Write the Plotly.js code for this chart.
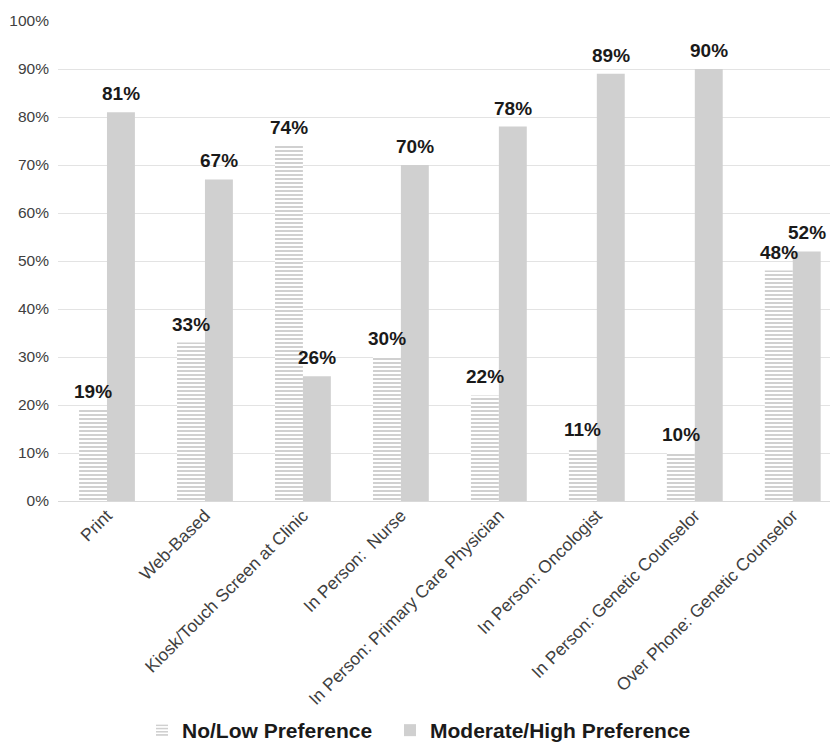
<!DOCTYPE html>
<html>
<head>
<meta charset="utf-8">
<script src="https://cdn.plot.ly/plotly-3.0.1.min.js"></script>
<style>
  html, body { margin: 0; padding: 0; background: #ffffff; }
  #chart { width: 830px; height: 742px; }
</style>
</head>
<body>
<div id="chart"></div>
<script>
// Delivery channels for genetic information
const categories = [
  'Print',
  'Web-Based',
  'Kiosk/Touch Screen at Clinic',
  'In Person:\u00a0 Nurse',
  'In Person: Primary Care Physician',
  'In Person: Oncologist',
  'In Person: Genetic Counselor',
  'Over Phone: Genetic Counselor'
];

// Percent of respondents per preference level
const noLowPreference = [19, 33, 74, 30, 22, 11, 10, 48];
const moderateHighPreference = [81, 67, 26, 70, 78, 89, 90, 52];

const yTicks = [0, 10, 20, 30, 40, 50, 60, 70, 80, 90, 100];

const fontFamily = 'Liberation Sans, Arial, sans-serif';
const barGrey = '#d0d0d0';

// plot geometry
const W = 830, H = 742;
const margin = { l: 58, r: 0, t: 21, b: 241 };
const xRange = [-0.5, 7.38];
const bargap = 0.43;
const pxPerCategory = (W - margin.l - margin.r) / (xRange[1] - xRange[0]);
const barOffsetPx = (1 - bargap) / 4 * pxPerCategory;

const traces = [
  {
    type: 'bar',
    name: '<b>No/Low Preference</b>',
    x: categories,
    y: noLowPreference,
    legend: 'legend',
    marker: {
      color: '#ffffff',
      line: { width: 0 },
      pattern: { shape: '-', fgcolor: barGrey, bgcolor: '#ffffff', size: 4, solidity: 0.5 }
    },
    hoverinfo: 'skip'
  },
  {
    type: 'bar',
    name: '<b>Moderate/High Preference</b>',
    x: categories,
    y: moderateHighPreference,
    legend: 'legend2',
    marker: { color: barGrey, line: { width: 0 } },
    hoverinfo: 'skip'
  }
];

// value labels above each bar
function valueLabels(values, shift) {
  return values.map((v, i) => ({
    x: categories[i],
    y: v,
    xref: 'x',
    yref: 'y',
    text: '<b>' + v + '%</b>',
    showarrow: false,
    xanchor: 'center',
    yanchor: 'bottom',
    xshift: shift,
    yshift: 6,
    font: { family: fontFamily, size: 19, color: '#1a1a1a' }
  }));
}

const annotations = valueLabels(noLowPreference, -barOffsetPx)
  .concat(valueLabels(moderateHighPreference, barOffsetPx));

function legendAt(left) {
  return {
    orientation: 'h',
    xref: 'container',
    yref: 'container',
    x: left / W,
    xanchor: 'left',
    y: 1 - 710 / H,
    yanchor: 'top',
    bgcolor: 'rgba(0,0,0,0)',
    font: { family: fontFamily, size: 21, color: '#1a1a1a' },
    itemwidth: 30
  };
}

const layout = {
  width: W,
  height: H,
  margin: margin,
  paper_bgcolor: '#ffffff',
  plot_bgcolor: '#ffffff',
  barmode: 'group',
  bargap: bargap,
  bargroupgap: 0,
  showlegend: true,
  legend: legendAt(142),
  legend2: legendAt(390),
  annotations: annotations,
  xaxis: {
    type: 'category',
    range: xRange,
    tickangle: -45,
    tickfont: { family: fontFamily, size: 17.5, color: '#404040' },
    showline: false,
    ticks: '',
    showgrid: false,
    zeroline: false
  },
  yaxis: {
    range: [0, 100],
    tickvals: yTicks,
    ticktext: yTicks.map(v => v + '%'),
    tickfont: { family: fontFamily, size: 15.5, color: '#404040' },
    showgrid: true,
    gridcolor: '#e3e3e3',
    gridwidth: 1,
    zeroline: true,
    zerolinecolor: '#d9d9d9',
    zerolinewidth: 1,
    showline: false,
    ticks: '',
    ticklabelstandoff: 8
  },
  font: { family: fontFamily }
};

Plotly.newPlot('chart', traces, layout, { displayModeBar: false, staticPlot: true });
</script>
</body>
</html>
